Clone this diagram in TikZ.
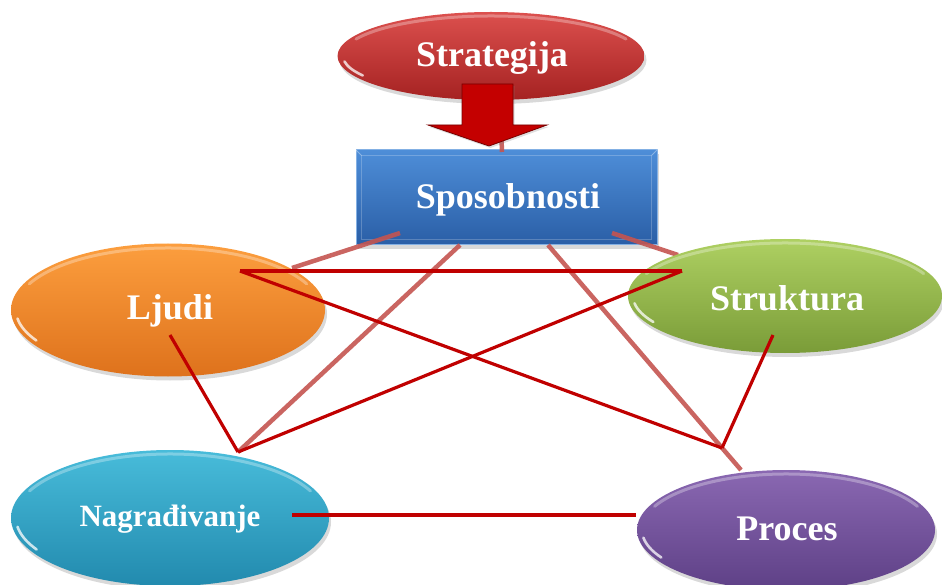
\documentclass[tikz,border=0pt]{standalone}
\usepackage{fontspec}
\setmainfont{Liberation Serif}
\usetikzlibrary{shadows,shapes.geometric,calc}

\definecolor{stratTop}{RGB}{220,80,78}
\definecolor{stratBot}{RGB}{165,34,34}
\definecolor{sposTop}{RGB}{78,142,216}
\definecolor{sposBot}{RGB}{42,94,166}
\definecolor{ljudTop}{RGB}{252,158,62}
\definecolor{ljudBot}{RGB}{222,114,28}
\definecolor{struTop}{RGB}{174,208,98}
\definecolor{struBot}{RGB}{122,156,56}
\definecolor{nagrTop}{RGB}{72,188,218}
\definecolor{nagrBot}{RGB}{34,138,174}
\definecolor{procTop}{RGB}{138,104,178}
\definecolor{procBot}{RGB}{94,64,134}
\definecolor{linkDark}{RGB}{192,0,0}
\definecolor{linkLight}{RGB}{196,84,80}
\definecolor{arrowRed}{RGB}{196,0,0}

\tikzset{
  label text/.style={text=white, font=\bfseries\fontsize{36}{40}\selectfont},
  blob/.style n args={4}{ellipse, inner sep=0pt, minimum width=#1, minimum height=#2,
    top color=#3, bottom color=#4, draw=none, label text,
    drop shadow={opacity=0.3, shadow xshift=2pt, shadow yshift=-4pt}},
  hard link/.style={draw=linkDark, line width=3.2pt},
  soft link/.style={draw=linkLight, line width=4.5pt, opacity=0.9},
  gloss/.style={draw=white, line width=3pt, opacity=0.3, line cap=round},
  glint/.style={draw=white, line width=2.6pt, opacity=0.75, line cap=round},
}

% white rim highlights on an ellipse: #1 node, #2 x radius, #3 y radius
\newcommand{\rimlight}[3]{%
  \draw[gloss] ($(#1.center)+(205:{#2-4} and {#3-4})$)
     arc[start angle=205, end angle=335, x radius={#2-4}, y radius={#3-4}];
  \draw[glint] ($(#1.center)+(150:{#2-5} and {#3-5})$)
     arc[start angle=150, end angle=172, x radius={#2-5}, y radius={#3-5}];
}

\begin{document}
\begin{tikzpicture}[x=1pt, y=-1pt]
\useasboundingbox (0,0) rectangle (942,585);

% top: strategy ellipse and the capabilities box
\node[blob={307pt}{88pt}{stratTop}{stratBot}] (strat) at (491,56) {};
\rimlight{strat}{153}{44}
\node[label text] at (492,58) {Strategija};

\node[rectangle, minimum width=301pt, minimum height=95pt, inner sep=0pt,
      top color=sposTop, bottom color=sposBot, draw=sposTop!70!white, line width=1pt,
      drop shadow={opacity=0.3, shadow xshift=2pt, shadow yshift=-4pt}]
      (spos) at (506.5,197.5) {};
\draw[white, opacity=0.22, line width=1.5pt] ($(spos.north west)+(6,6)$) rectangle ($(spos.south east)+(-6,-6)$);
\draw[white, opacity=0.35, line width=1pt] (spos.north west) -- ($(spos.north west)+(6,6)$);
\draw[white, opacity=0.35, line width=1pt] (spos.north east) -- ($(spos.north east)+(-6,6)$);
\node[label text] at (508,200) {Sposobnosti};

% anchor points of the links
\coordinate (s-lj) at (400,233);
\coordinate (s-na) at (460,245);
\coordinate (s-pr) at (548,245);
\coordinate (s-st) at (612,233);
\coordinate (s-top) at (502,152);
\coordinate (lj-rim) at (292,268);
\coordinate (st-rim) at (678,255);
\coordinate (na-top) at (238,452);
\coordinate (pr-rim) at (741,470);
\coordinate (pr-top) at (722,448);
\coordinate (lj-in) at (240,271);
\coordinate (lj-low) at (170,335);
\coordinate (st-in) at (682,271);
\coordinate (st-low) at (773,335);
\coordinate (na-in) at (292,515);
\coordinate (pr-in) at (636,515);

% soft links from the capabilities box, behind the outer ellipses
\draw[soft link] (strat.south) ++(9,0) -- (s-top);
\draw[soft link] (s-lj) -- (lj-rim);
\draw[soft link] (s-na) -- (na-top);
\draw[soft link] (s-pr) -- (pr-rim);
\draw[soft link] (s-st) -- (st-rim);

% block arrow from strategy down to the box
\draw[fill=arrowRed, draw=arrowRed!60!black, line width=0.8pt, line join=miter,
      drop shadow={opacity=0.25, shadow xshift=1.5pt, shadow yshift=-2pt}]
  (462,84) -- (513,84) -- (513,125) -- (547,125) -- (489,146) -- (428,125) -- (462,125) -- cycle;

% the four outer ellipses
\node[blob={314pt}{133pt}{ljudTop}{ljudBot}] (ljudi) at (168,310) {};
\rimlight{ljudi}{157}{66}
\node[label text] at (170,311) {Ljudi};

\node[blob={314pt}{114pt}{struTop}{struBot}] (strukt) at (785,296) {};
\rimlight{strukt}{157}{57}
\node[label text] at (787,298) {Struktura};

\node[blob={318pt}{136pt}{nagrTop}{nagrBot}] (nagr) at (170,518) {};
\rimlight{nagr}{159}{68}
\node[label text, font=\bfseries\fontsize{31}{36}\selectfont] at (170,519) {Nagrađivanje};

\node[blob={298pt}{120pt}{procTop}{procBot}] (proces) at (786,530) {};
\rimlight{proces}{149}{60}
\node[label text] at (787,529) {Proces};

% hard links between the outer elements
\draw[hard link] (lj-in) -- (st-in);
\draw[hard link] (lj-in) -- (pr-top);
\draw[hard link] (st-in) -- (na-top);
\draw[hard link] (lj-low) -- (na-top);
\draw[hard link] (st-low) -- (pr-top);
\draw[hard link] (na-in) -- (pr-in);
\end{tikzpicture}
\end{document}
